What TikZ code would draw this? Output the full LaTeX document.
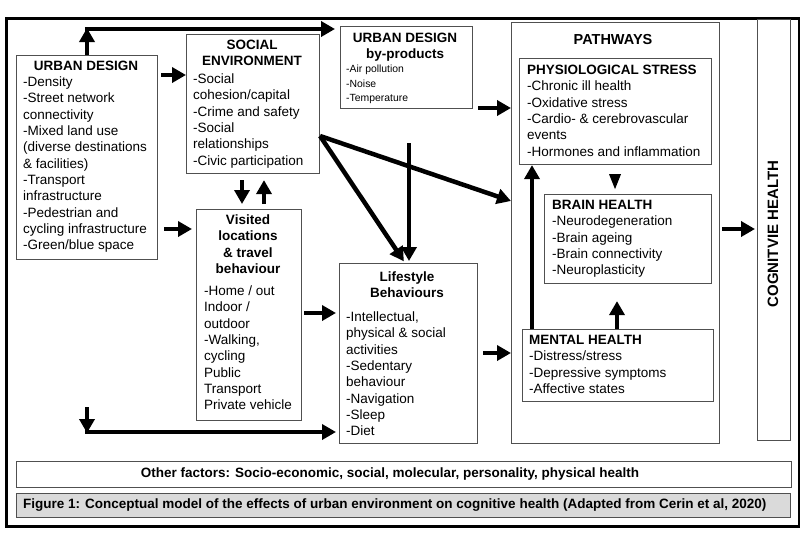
\documentclass[tikz,border=0pt]{standalone}
\usepackage{fontspec}
\setmainfont{Liberation Sans}
\usetikzlibrary{arrows.meta,calc}
\definecolor{bxc}{HTML}{505050}
\definecolor{capfill}{HTML}{DADADA}
\newcommand\bodyf{\fontsize{13.5}{16.3}\selectfont}
\newcommand\bpsmall{\fontsize{10.4}{14.3}\selectfont}
\tikzset{
  box/.style={draw=bxc, line width=1.1pt, inner sep=0pt, anchor=north west},
  tx/.style={inner sep=0pt, font=\bodyf, align=left, anchor=north west},
  ttl/.style={inner sep=0pt, font=\bodyf\bfseries, align=center, anchor=north},
  arr/.style={line width=4.5pt, -{Triangle[length=14pt,width=15pt]}},
}
\begin{document}
\begin{tikzpicture}[x=1pt,y=-1pt]
\useasboundingbox (0,0) rectangle (800,533);
% outer frame
\node[draw=black, line width=2.5pt, inner sep=0pt, anchor=north west, minimum width=793pt, minimum height=508pt] (frame) at (5,17) {};

% boxes
\node[box, minimum width=141pt, minimum height=204pt] (ud) at (16,55) {};
\node[box, minimum width=133pt, minimum height=139pt] (se) at (186,34) {};
\node[box, minimum width=132pt, minimum height=82pt] (bp) at (340,26) {};
\node[box, minimum width=105pt, minimum height=211pt] (vl) at (196,209) {};
\node[box, minimum width=138pt, minimum height=180pt] (lb) at (339,263) {};
\node[box, minimum width=208pt, minimum height=421pt] (pw) at (511,22) {};
\node[box, minimum width=192pt, minimum height=106pt] (ps) at (519,58) {};
\node[box, minimum width=167pt, minimum height=89pt] (bh) at (544,194) {};
\node[box, minimum width=191pt, minimum height=72pt] (mh) at (522,329) {};
\node[box, minimum width=33pt, minimum height=421pt] (cog) at (757,19) {};
\node[box, minimum width=775pt, minimum height=26pt] (of) at (16,461) {};
\node[box, fill=capfill, minimum width=774pt, minimum height=24pt] (cap) at (16,493) {};

% texts
\node[ttl] (udt) at (86,59) {\strut URBAN DESIGN};
\node[tx] (udi) at (23,75) {\strut -Density\\-Street network\\connectivity\\-Mixed land use\\(diverse destinations\\\& facilities)\\-Transport\\infrastructure\\-Pedestrian and\\cycling infrastructure\\-Green/blue space};

\node[ttl] (set) at (252,38) {\strut SOCIAL\\ENVIRONMENT};
\node[tx] (sei) at (193,72) {\strut -Social\\cohesion/capital\\-Crime and safety\\-Social\\relationships\\-Civic participation};

\node[ttl] (bpt) at (405,31) {\strut URBAN DESIGN\\by-products};
\node[tx, font=\bpsmall] (bpi) at (346,62.5) {\strut -Air pollution\\-Noise\\-Temperature};

\node[ttl] (vlt) at (248,213) {\strut Visited\\locations\\\& travel\\behaviour};
\node[tx] (vli) at (204,284) {\strut -Home / out\\Indoor /\\outdoor\\-Walking,\\cycling\\Public\\Transport\\Private vehicle};

\node[ttl] (lbt) at (407,270) {\strut Lifestyle\\Behaviours};
\node[tx] (lbi) at (346,310) {\strut -Intellectual,\\physical \& social\\activities\\-Sedentary\\behaviour\\-Navigation\\-Sleep\\-Diet};

\node[inner sep=0pt, font=\fontsize{14.5}{17}\selectfont\bfseries] (pwt) at (613,40) {PATHWAYS};
\node[tx] (psi) at (527,63) {\strut\textbf{PHYSIOLOGICAL STRESS}\\-Chronic ill health\\-Oxidative stress\\-Cardio- \& cerebrovascular\\events\\-Hormones and inflammation};
\node[tx] (bhi) at (552,198) {\strut\textbf{BRAIN HEALTH}\\-Neurodegeneration\\-Brain ageing\\-Brain connectivity\\-Neuroplasticity};
\node[tx] (mhi) at (529,333) {\strut\textbf{MENTAL HEALTH}\\-Distress/stress\\-Depressive symptoms\\-Affective states};

\node[inner sep=0pt, rotate=90, font=\fontsize{15}{18}\selectfont\bfseries] (cogt) at (773,234) {COGNITVIE HEALTH};
\node[inner sep=0pt, font=\bodyf\bfseries] (oft) at (390,474) {Other factors: Socio-economic, social, molecular, personality, physical health};
\node[inner sep=0pt, anchor=west, font=\bodyf\bfseries] (capt) at (23,505) {Figure 1: Conceptual model of the effects of urban environment on cognitive health (Adapted from Cerin et al, 2020)};

% connectors
\coordinate (topc) at (87,29);
\coordinate (botc) at (87,407);
\draw[arr] (ud.north -| topc) -- ($(topc)+(0,-1)$);
\draw[line width=4.5pt] ($(topc)+(-2.25,0)$) -- (topc);
\draw[arr, shorten >=5pt] (topc) -- (bp.west |- topc);
\draw[arr, shorten <=3pt] (ud.east |- 0,75) -- (se.west |- 0,75);
\draw[arr, shorten <=6pt, shorten >=4pt] (ud.east |- 0,229) -- (vl.west |- 0,229);
\draw[arr, shorten <=6pt, shorten >=5pt] (se.south -| 242,0) -- (vl.north -| 242,0);
\draw[arr, shorten <=5pt, shorten >=6pt] (vl.north -| 264,0) -- (se.south -| 264,0);
\draw[arr, shorten <=5pt] (bp.east |- 0,108) -- (pw.west |- 0,108);
\draw[arr] (se.east |- 0,136) -- (pw.west |- 0,201);
\draw[arr, shorten >=2pt] (se.east |- 0,136) -- ($(lb.north -| 405,0)$);
\draw[arr, shorten <=34pt, shorten >=2pt] (bp.south -| 409,0) -- (lb.north -| 409,0);
\draw[arr, shorten <=2pt, shorten >=3pt] (vl.east |- 0,313) -- (lb.west |- 0,313);
\draw[arr] (botc) -- ($(botc)+(0,26)$);
\draw[arr, shorten >=3pt] ($(botc)+(-2.25,25)$) -- (lb.west |- 0,432);
\draw[arr, shorten <=5pt] (lb.east |- 0,353) -- (pw.west |- 0,353);
\draw[arr] (mh.north -| 532,0) -- (ps.south -| 532,0);
\fill ($(ps.south -| 615,0)+(-6,9)$) -- ++(12,0) -- ++(-6,15) -- cycle;
\draw[arr, shorten >=17pt] (mh.north -| 617,0) -- (bh.south -| 617,0);
\draw[arr, shorten <=2pt, shorten >=2pt] (pw.east |- 0,229) -- (cog.west |- 0,229);
\end{tikzpicture}
\end{document}
